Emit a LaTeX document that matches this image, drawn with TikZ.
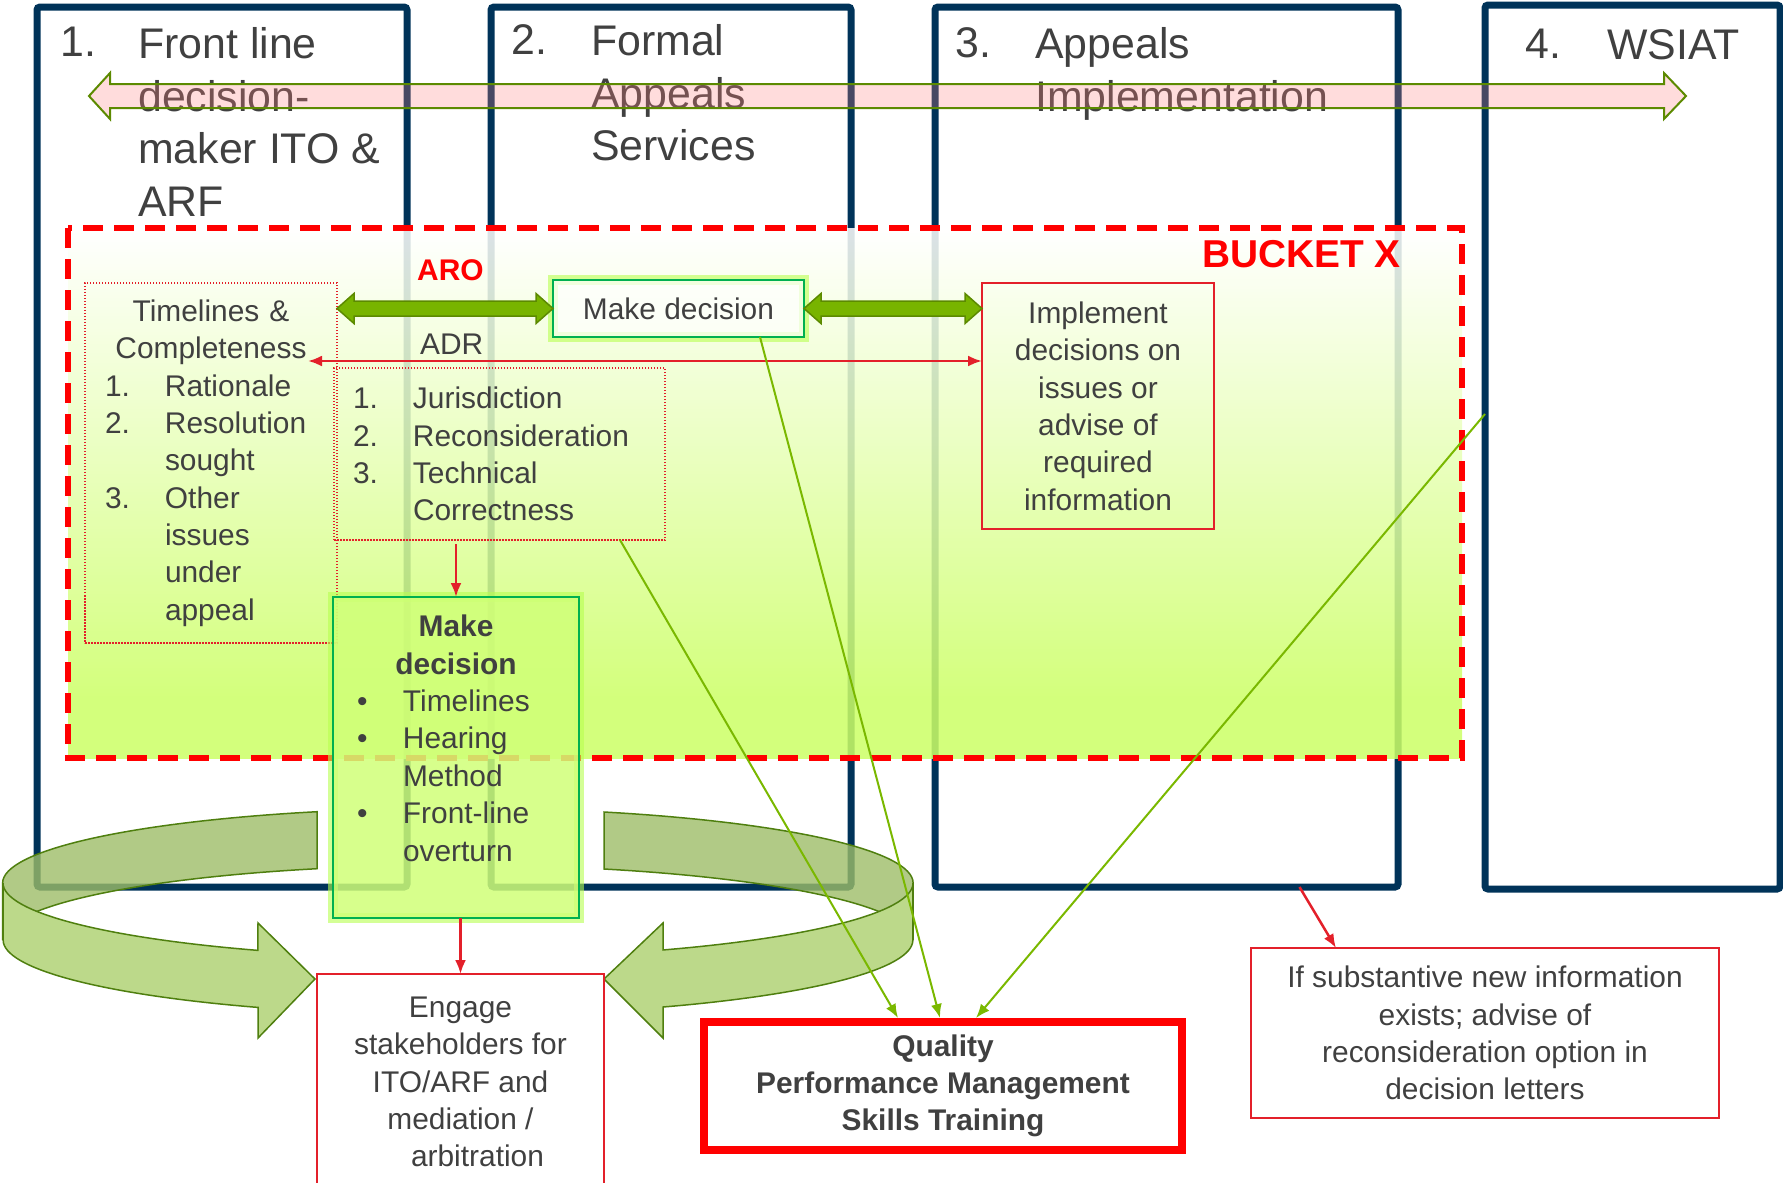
\documentclass[tikz,border=0pt]{standalone}
\usepackage{fontspec}
\setmainfont{Liberation Sans}
\usepackage{tikz}
\usetikzlibrary{calc,arrows.meta,positioning}

\definecolor{navy}{HTML}{003359}
\definecolor{txtgray}{HTML}{404040}
\definecolor{bucketred}{HTML}{FF0000}
\definecolor{boxred}{HTML}{E3202A}
\definecolor{lime}{HTML}{CCFF66}
\definecolor{mdfill}{HTML}{D0FF78}
\definecolor{mdgreen}{HTML}{00B050}
\definecolor{glow}{HTML}{B8FF50}
\definecolor{fatgreen}{HTML}{78B400}
\definecolor{fatborder}{HTML}{5C8A00}
\definecolor{thingreen}{HTML}{7AB800}
\definecolor{pinkfill}{HTML}{FF8080}
\definecolor{ringback}{HTML}{9DBD68}
\definecolor{ringfront}{HTML}{BCD98A}
\definecolor{ringline}{HTML}{4F7F0F}

\pgfdeclareverticalshading{bucketfade}{100bp}{color(0bp)=(lime); color(30.5bp)=(lime); color(75bp)=(white); color(100bp)=(white)}

\newcommand{\itm}[1]{\makebox[60bp][l]{#1}}
\newcommand{\blt}{\makebox[46bp][l]{•}}
\newcommand{\fatarrow}[2]{%
	\draw[fatarr] (#1) -- ($(#1)+(17,-15)$) -- ($(#1)+(17,-7.5)$) -- ($(#2)+(-17,-7.5)$) -- ($(#2)+(-17,-15)$) -- (#2)
		-- ($(#2)+(-17,15)$) -- ($(#2)+(-17,7.5)$) -- ($(#1)+(17,7.5)$) -- ($(#1)+(17,15)$) -- cycle;}

\begin{document}
\begin{tikzpicture}[x=1bp,y=-1bp,>={Latex[length=14bp,width=11bp]},
	column/.style={draw=navy,line width=7bp,rounded corners=3bp,inner sep=0,outer sep=0,anchor=north west},
	title/.style={font=\fontsize{43}{53}\selectfont,text=txtgray,inner sep=0,anchor=north west,align=left},
	body/.style={font=\fontsize{30}{37.5}\selectfont,text=txtgray},
	box/.style={body,inner sep=0,outer sep=0,anchor=north west,align=center},
	dotbox/.style={box,draw=boxred,line width=1.5bp,dash pattern=on 1.5bp off 1.5bp},
	redbox/.style={box,draw=boxred,line width=1.5bp},
	mdbox/.style={box,draw=mdgreen,line width=2bp,preaction={draw=glow,line width=10bp,draw opacity=.6}},
	fatarr/.style={draw=fatborder,fill=fatgreen,line width=1.5bp},
	redarr/.style={draw=boxred,line width=2.5bp},
	greenarr/.style={draw=thingreen,line width=2bp},
	ring/.style={draw=ringline,line width=1.5bp}]

	\useasboundingbox (0,0) rectangle (1783,1182);

	\node[column,minimum width=370bp,minimum height=880bp] (C1) at (37,7)   {};
	\node[column,minimum width=360bp,minimum height=880bp] (C2) at (491,7)  {};
	\node[column,minimum width=463bp,minimum height=880bp] (C3) at (935,7)  {};
	\node[column,minimum width=295bp,minimum height=884bp] (C4) at (1485,5) {};

	\node[title] (n1) at (60,27)   {1.};
	\node[title] (t1) at (138,27)  {Front line\\decision-\\maker ITO \&\\ARF};
	\node[title] (n2) at (511,24)  {2.};
	\node[title] (t2) at (591,24)  {Formal\\Appeals\\Services};
	\node[title] (n3) at (955,27)  {3.};
	\node[title] (t3) at (1035,27) {Appeals\\Implementation};
	\node[title] (n4) at (1525,29) {4.};
	\node[title] (t4) at (1607,29) {WSIAT};

	\coordinate (pl) at (89,96);
	\coordinate (pr) at (1686,96);
	\draw[draw=fatborder,fill=pinkfill,fill opacity=.28,line width=2bp] (pl) -- ($(pl)+(21,-23)$) -- ($(pl)+(21,-12)$) -- ($(pr)+(-22,-12)$) -- ($(pr)+(-22,-23)$) -- (pr)
		-- ($(pr)+(-22,23)$) -- ($(pr)+(-22,12)$) -- ($(pl)+(21,12)$) -- ($(pl)+(21,23)$) -- cycle;

	\shade[shading=bucketfade,opacity=.86] (68,228) rectangle (1462,758);
	\draw[bucketred,line width=6bp,dash pattern=on 20bp off 11bp] (68,228) rectangle (1462,758);
	\node[font=\bfseries\fontsize{39}{45}\selectfont,text=bucketred,inner sep=0,anchor=base east] (bx) at (1401,267) {BUCKET X};

	\node[dotbox,text width=212bp,align=left,minimum width=252bp,minimum height=360bp] (tc) at (85,283)
		{\makebox[212bp]{Timelines \&}\\\makebox[212bp]{Completeness}\\\itm{1.}Rationale\\\itm{2.}Resolution\\\itm{}sought\\\itm{3.}Other\\\itm{}issues\\\itm{}under\\\itm{}appeal};
	\node[font=\bfseries\fontsize{30}{36}\selectfont,text=bucketred,inner sep=0,anchor=base west] (aro) at (417,280) {ARO};
	\node[mdbox,fill=white,fill opacity=.7,text opacity=1,minimum width=251bp,minimum height=57bp] (md1) at (553,280) {Make decision};
	\node[body,inner sep=0,anchor=base west] (adr) at (420,354) {ADR};
	\node[redbox,minimum width=232bp,minimum height=246bp] (impl) at (982,283)
		{Implement\\decisions on\\issues or\\advise of\\required\\information};
	\node[dotbox,text width=293bp,align=left,minimum width=331bp,minimum height=172bp] (jur) at (334,368)
		{\itm{1.}Jurisdiction\\\itm{2.}Reconsideration\\\itm{3.}Technical\\\itm{}Correctness};

	\fatarrow{tc.east |- md1.west}{md1.west}
	\fatarrow{md1.east}{impl.west |- md1.east}
	\coordinate (adrL) at (308,361);
	\draw[redarr,<->] (adrL) -- (impl.west |- adrL);

	\node[mdbox,fill=mdfill,fill opacity=.85,text opacity=1,minimum width=246bp,minimum height=321bp] (md2) at (333,597) {};
	\node[body,inner sep=0,anchor=north,text width=198bp,align=left] (md2t) at ([yshift=-18bp]md2.north)
		{\makebox[198bp]{\bfseries Make}\\\makebox[198bp]{\bfseries decision}\\\blt Timelines\\\blt Hearing\\\hspace*{46bp}Method\\\blt Front-line\\\hspace*{46bp}overturn};
	\draw[redarr,->,shorten <=4bp] (md2.north |- jur.south) -- (md2.north);

	% ring arrows round the decision box
	\fill[ringback,opacity=.8] (317,811.7) arc[start angle=-108,end angle=-180,x radius=455,y radius=75] -- ++(0,57) arc[start angle=-180,end angle=-108,x radius=455,y radius=75] -- cycle;
	\draw[ring] (317,811.7) arc[start angle=-108,end angle=-180,x radius=455,y radius=75] -- ++(0,57) arc[start angle=-180,end angle=-108,x radius=455,y radius=75] -- cycle;
	\filldraw[ring,fill=ringfront] (3,883) arc[start angle=180,end angle=116.1,x radius=455,y radius=75] -- (258,923) -- (315,979) -- (258,1038) -- (258,1007.4)
		arc[start angle=116.1,end angle=180,x radius=455,y radius=75] -- cycle;
	\fill[ringback,opacity=.8] (604,812) arc[start angle=-71.3,end angle=0,x radius=455,y radius=75] -- ++(0,57) arc[start angle=0,end angle=-71.3,x radius=455,y radius=75] -- cycle;
	\draw[ring] (604,812) arc[start angle=-71.3,end angle=0,x radius=455,y radius=75] -- ++(0,57) arc[start angle=0,end angle=-71.3,x radius=455,y radius=75] -- cycle;
	\filldraw[ring,fill=ringfront] (913,883) arc[start angle=0,end angle=63.2,x radius=455,y radius=75] -- (663,923) -- (604,979) -- (663,1038) -- (663,1007)
		arc[start angle=63.2,end angle=0,x radius=455,y radius=75] -- cycle;

	\node[redbox,minimum width=287bp,minimum height=216bp] (eng) at (317,974)
		{Engage\\stakeholders for\\ITO/ARF and\\mediation /\\\hspace*{34bp}arbitration};
	\draw[redarr,->] (md2.south -| eng.north) -- (eng.north);

	\node[box,draw=bucketred,line width=8bp,font=\bfseries\fontsize{30}{37}\selectfont,minimum width=478bp,minimum height=128bp] (qual) at (704,1022)
		{Quality\\Performance Management\\Skills Training};
	\node[redbox,minimum width=468bp,minimum height=170bp] (ifb) at (1251,948)
		{If substantive new information\\exists; advise of\\reconsideration option in\\decision letters};
	\draw[redarr,->] ([xshift=133bp]C3.south) -- ([xshift=-149bp]ifb.north);

	\draw[greenarr,->] ([xshift=-45bp]jur.south east) -- ([xshift=-45bp,yshift=4bp]qual.north);
	\draw[greenarr,->] ([xshift=-44bp]md1.south east) -- ([xshift=-3bp,yshift=4bp]qual.north);
	\draw[greenarr,->] ([yshift=33bp]C4.west) -- ([xshift=33bp,yshift=4bp]qual.north);
\end{tikzpicture}
\end{document}
